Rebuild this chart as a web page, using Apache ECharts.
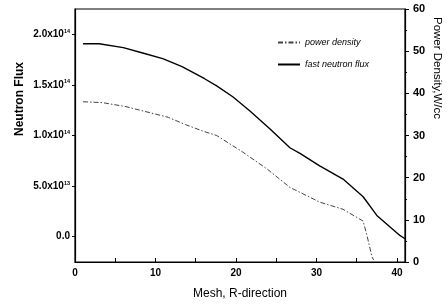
<!DOCTYPE html>
<html>
<head>
<meta charset="utf-8">
<script src="https://cdn.jsdelivr.net/npm/echarts@6/dist/echarts.min.js"></script>
<style>html,body{margin:0;padding:0;background:#fff}#c{width:447px;height:305px}</style>
</head>
<body>
<div id="c"></div>
<script>
// Fast neutron flux (units of 1e14 n/cm2s) vs mesh
var fluxMesh = [1, 3, 6, 8.3, 10.9, 13.3, 16.1, 17.6, 19.6, 21.7, 24.2, 26.7, 28, 30.4, 33.3, 35.8, 37.5, 40.4, 41];
var fluxE14  = [1.907, 1.907, 1.868, 1.818, 1.759, 1.68, 1.561, 1.49, 1.383, 1.245, 1.067, 0.879, 0.82, 0.70, 0.57, 0.395, 0.21, 0.01, -0.02];
// Power density (W/cc) vs mesh
var powerMesh = [1, 3.4, 6.2, 8.7, 11.6, 13.7, 16.1, 17.6, 20.9, 23.9, 26.7, 30.4, 33.3, 35.8, 36.3, 36.9, 37.1];
var power     = [38.0, 37.8, 36.9, 35.7, 34.3, 32.6, 30.9, 30.0, 26.0, 22.0, 17.7, 14.2, 12.5, 9.7, 6.1, 1.2, 0.5];
// Tick values
var xTicks = [0, 10, 20, 30, 40];
var xMinorTicks = [0, 5, 10, 15, 20, 25, 30, 35, 40];
var leftTicks = [0, 0.5, 1.0, 1.5, 2.0];
var leftLabels = {'0': '{m|0.0}', '0.5': '{m|5.0x10}{s|13}', '1': '{m|1.0x10}{s|14}', '1.5': '{m|1.5x10}{s|14}', '2': '{m|2.0x10}{s|14}'};

function pairs(xs, ys) { return xs.map(function (x, i) { return [x, ys[i]]; }); }

var font = 'Liberation Sans, Arial, sans-serif';
var chart = echarts.init(document.getElementById('c'));
chart.setOption({
  animation: false,
  backgroundColor: '#fff',
  grid: { left: 75, right: 42, top: 9, bottom: 42, show: true, borderColor: '#000', borderWidth: 1.2, backgroundColor: 'transparent' },
  legend: {
    orient: 'vertical', left: 272, top: 33, itemWidth: 22, itemHeight: 8, itemGap: 13,
    itemStyle: { opacity: 0 },
    textStyle: { fontFamily: font, fontSize: 9, fontStyle: 'italic', color: '#000' },
    data: ['power density', 'fast neutron flux']
  },
  xAxis: {
    type: 'value', min: 0, max: 41,
    name: 'Mesh, R-direction', nameLocation: 'middle', nameGap: 26,
    nameTextStyle: { fontFamily: font, fontSize: 12, color: '#000' },
    axisLine: { show: true, onZero: false, lineStyle: { color: '#000', width: 1.2 } },
    axisTick: { show: true, inside: true, length: 4, customValues: xMinorTicks, lineStyle: { color: '#000' } },
    axisLabel: { customValues: xTicks, margin: 6, fontFamily: font, fontSize: 10, fontWeight: 'bold', color: '#000' },
    splitLine: { show: false }
  },
  yAxis: [{
    type: 'value', min: -0.25, max: 2.25, position: 'left',
    axisLine: { show: true, onZero: false, lineStyle: { color: '#000', width: 1.2 } },
    axisTick: { show: true, length: 3, customValues: leftTicks, lineStyle: { color: '#000' } },
    axisLabel: {
      customValues: leftTicks, margin: 5, color: '#000',
      formatter: function (v) { return leftLabels[String(v)] || ''; },
      rich: {
        m: { fontFamily: font, fontSize: 10, fontWeight: 'bold', color: '#000' },
        s: { fontFamily: font, fontSize: 5.5, fontWeight: 'bold', color: '#000', verticalAlign: 'top', padding: [0, 0, 6, 0] }
      }
    },
    splitLine: { show: false }
  }, {
    type: 'value', min: 0, max: 60, interval: 10, position: 'right',
    axisLine: { show: true, onZero: false, lineStyle: { color: '#000', width: 1.2 } },
    axisTick: { show: true, length: 4, lineStyle: { color: '#000' } },
    minorTick: { show: true, splitNumber: 2, length: 2, lineStyle: { color: '#000' } },
    axisLabel: { margin: 8, fontFamily: font, fontSize: 11, fontWeight: 'bold', color: '#000' },
    splitLine: { show: false }
  }],
  graphic: [
    { type: 'text', left: 14, top: 62, rotation: Math.PI / 2,
      style: { text: 'Neutron Flux', fontFamily: font, fontSize: 12, fontWeight: 'bold', fill: '#000' } },
    { type: 'text', left: 431, top: 17, rotation: -Math.PI / 2,
      style: { text: 'Power Density,W/cc', fontFamily: font, fontSize: 11.5, fill: '#000' } }
  ],
  series: [{
    name: 'power density', type: 'line', yAxisIndex: 1, symbol: 'none', smooth: false,
    data: pairs(powerMesh, power),
    lineStyle: { color: '#444', width: 1, type: [5, 2, 1.5, 2] },
    itemStyle: { color: '#444' }
  }, {
    name: 'fast neutron flux', type: 'line', yAxisIndex: 0, symbol: 'none', smooth: false,
    data: pairs(fluxMesh, fluxE14),
    lineStyle: { color: '#000', width: 1.4 },
    itemStyle: { color: '#000' }
  }]
});
</script>
</body>
</html>
